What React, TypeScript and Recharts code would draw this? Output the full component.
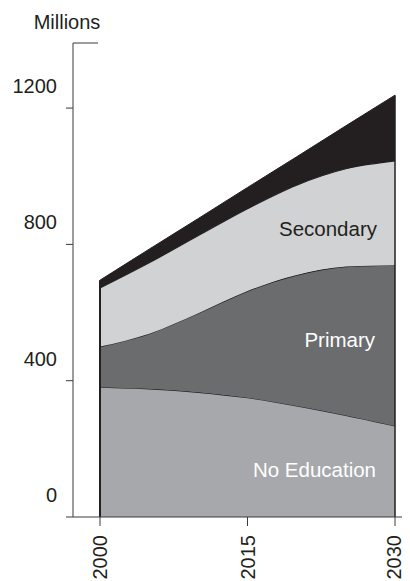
import React from "react";
import { AreaChart, Area, XAxis, YAxis, ReferenceLine } from "recharts";

const years = [2000, 2005, 2010, 2015, 2020, 2025, 2030];
const noEducation = [381, 376, 366, 350, 326, 298, 267];
const primary = [119, 162, 232, 313, 384, 437, 472];
const secondary = [172, 208, 228, 242, 264, 287, 306];
const tertiary = [23, 40, 50, 62, 83, 126, 193];

const yTicks = [0, 400, 800, 1200];
const xTicks = [2000, 2015, 2030];

const X_MIN = 1997.254;
const X_MAX = 2031.525;
const Y_MAX = 1391;

const INK = "#231f20";
const FONT = "'Liberation Sans', Arial, Helvetica, sans-serif";

const data = years.map((year, i) => ({
  year,
  noEducation: noEducation[i],
  primary: primary[i],
  secondary: secondary[i],
  tertiary: tertiary[i],
}));

const totalAt = (i: number) => noEducation[i] + primary[i] + secondary[i] + tertiary[i];

const YTick = (props: any) => {
  const { x, y, payload } = props;
  return (
    <text x={x} y={y - 15} textAnchor="end" fontSize={20} fill={INK} fontFamily={FONT}>
      {payload.value}
    </text>
  );
};

const XTick = (props: any) => {
  const { x, y, payload } = props;
  return (
    <text
      x={x}
      y={y}
      transform={`rotate(-90 ${x} ${y})`}
      textAnchor="end"
      dy="0.36em"
      fontSize={20}
      fill={INK}
      fontFamily={FONT}
    >
      {payload.value}
    </text>
  );
};

export default function App() {
  const last = years.length - 1;
  return (
    <div style={{ position: "relative", width: 402, height: 573, fontFamily: FONT }}>
      <AreaChart
        width={402}
        height={573}
        data={data}
        margin={{ top: 35, right: 0, left: 0, bottom: 0 }}
      >
        <XAxis
          dataKey="year"
          type="number"
          domain={[X_MIN, X_MAX]}
          ticks={xTicks}
          allowDataOverflow
          height={64}
          tickSize={9}
          tickMargin={9}
          tick={<XTick />}
          axisLine={{ stroke: "#3a3a3a", strokeWidth: 1 }}
          tickLine={{ stroke: "#3a3a3a", strokeWidth: 1 }}
        />
        <YAxis
          type="number"
          domain={[0, Y_MAX]}
          ticks={yTicks}
          allowDataOverflow
          width={65}
          tickSize={7}
          tickMargin={9}
          tick={<YTick />}
          axisLine={{ stroke: "#3a3a3a", strokeWidth: 1 }}
          tickLine={{ stroke: "#3a3a3a", strokeWidth: 1 }}
        />
        <Area
          type="monotone"
          dataKey="noEducation"
          stackId="1"
          fill="#a7a8ab"
          fillOpacity={1}
          stroke={INK}
          strokeWidth={1.2}
          isAnimationActive={false}
        />
        <Area
          type="monotone"
          dataKey="primary"
          stackId="1"
          fill="#6b6c6e"
          fillOpacity={1}
          stroke={INK}
          strokeWidth={1.2}
          isAnimationActive={false}
        />
        <Area
          type="monotone"
          dataKey="secondary"
          stackId="1"
          fill="#d1d2d4"
          fillOpacity={1}
          stroke={INK}
          strokeWidth={1.2}
          isAnimationActive={false}
        />
        <Area
          type="monotone"
          dataKey="tertiary"
          stackId="1"
          fill={INK}
          fillOpacity={1}
          stroke={INK}
          strokeWidth={1}
          isAnimationActive={false}
        />
        <ReferenceLine
          segment={[
            { x: years[0], y: 0 },
            { x: years[0], y: totalAt(0) },
          ]}
          stroke={INK}
          strokeWidth={2}
          ifOverflow="visible"
        />
        <ReferenceLine
          segment={[
            { x: years[last], y: 0 },
            { x: years[last], y: totalAt(last) },
          ]}
          stroke={INK}
          strokeWidth={1.5}
          ifOverflow="visible"
        />
        <ReferenceLine
          segment={[
            { x: X_MIN, y: Y_MAX },
            { x: 1999.8, y: Y_MAX },
          ]}
          stroke="#3a3a3a"
          strokeWidth={1}
          ifOverflow="visible"
        />
      </AreaChart>
      <svg
        width={402}
        height={573}
        style={{ position: "absolute", left: 0, top: 0, pointerEvents: "none" }}
      >
        <text x={59} y={21} textAnchor="middle" fontSize={20} fill={INK} fontFamily={FONT}>
          Millions
        </text>
        <text x={369} y={228} textAnchor="end" fontSize={20.5} fill={INK} fontFamily={FONT}>
          Secondary
        </text>
        <text x={367} y={339} textAnchor="end" fontSize={20.5} fill="#ffffff" fontFamily={FONT}>
          Primary
        </text>
        <text x={368} y={469} textAnchor="end" fontSize={20.5} fill="#ffffff" fontFamily={FONT}>
          No Education
        </text>
      </svg>
    </div>
  );
}
